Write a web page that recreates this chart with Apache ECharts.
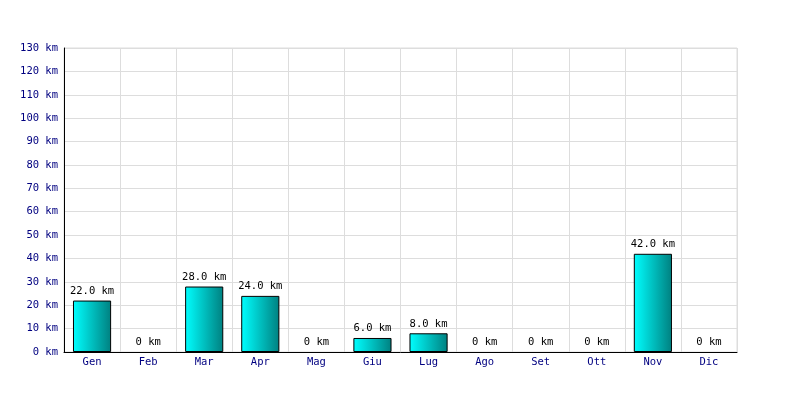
<!DOCTYPE html>
<html><head><meta charset="utf-8">
<script src="https://cdn.jsdelivr.net/npm/echarts@6/dist/echarts.min.js"></script>
<style>html,body{margin:0;padding:0;background:#fff}#c{width:800px;height:400px}</style>
</head><body><div id="c"></div>
<script>
const months = ['Gen','Feb','Mar','Apr','Mag','Giu','Lug','Ago','Set','Ott','Nov','Dic'];
const km = [22, 0, 28, 24, 0, 6, 8, 0, 0, 0, 42, 0];
const yMax = 130, yStep = 10;
const font = 'DejaVu Sans Mono';
const chart = echarts.init(document.getElementById('c'));
chart.setOption({
  animation: false,
  backgroundColor: '#fff',
  grid: {left: 64, right: 63, top: 48, bottom: 48, show: true, borderColor: '#ddd', borderWidth: 1},
  xAxis: {
    type: 'category', data: months,
    axisLine: {lineStyle: {color: '#000', width: 1}},
    axisTick: {show: false},
    axisLabel: {color: '#000080', fontFamily: font, fontSize: 10.5, margin: 5},
    splitLine: {show: true, lineStyle: {color: '#ddd', width: 1}}
  },
  yAxis: {
    type: 'value', min: 0, max: yMax, interval: yStep,
    axisLine: {show: true, lineStyle: {color: '#000', width: 1}},
    axisTick: {show: false},
    axisLabel: {color: '#000080', fontFamily: font, fontSize: 10.5, margin: 6, formatter: v => v + ' km'},
    splitLine: {lineStyle: {color: '#ddd', width: 1}}
  },
  series: [{
    type: 'bar',
    data: km.map(v => v > 0 ? v : {value: v, itemStyle: {borderWidth: 0, color: 'rgba(0,0,0,0)'}}),
    barWidth: '68%',
    itemStyle: {
      color: new echarts.graphic.LinearGradient(0, 0, 1, 0, [
        {offset: 0, color: '#00ffff'}, {offset: 1, color: '#008080'}
      ]),
      borderColor: '#000', borderWidth: 1
    },
    label: {
      show: true, position: 'top', distance: 4, color: '#000', fontFamily: font, fontSize: 10.5,
      formatter: p => p.value > 0 ? p.value.toFixed(1) + ' km' : '0 km'
    }
  }]
});
</script></body></html>
